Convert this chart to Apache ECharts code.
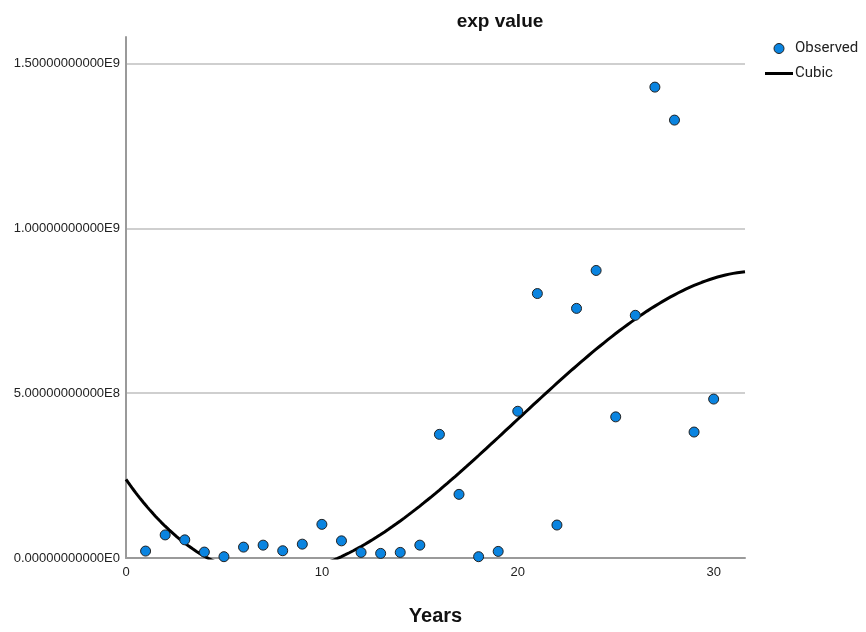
<!DOCTYPE html>
<html>
<head>
<meta charset="utf-8">
<script src="https://cdn.jsdelivr.net/npm/echarts@6/dist/echarts.min.js"></script>
<style>
  html, body { margin: 0; padding: 0; background: #fff; }
  #chart { width: 866px; height: 632px; }
</style>
</head>
<body>
<div id="chart"></div>
<script>
// Years 1..30 and the observed exp value for each year
const years = [1, 2, 3, 4, 5, 6, 7, 8, 9, 10, 11, 12, 13, 14, 15,
               16, 17, 18, 19, 20, 21, 22, 23, 24, 25, 26, 27, 28, 29, 30];
const observed = [2.1e7, 7.0e7, 5.5e7, 1.8e7, 4.0e6, 3.3e7, 3.9e7, 2.2e7, 4.2e7, 1.02e8,
                  5.2e7, 1.7e7, 1.4e7, 1.7e7, 3.9e7, 3.75e8, 1.93e8, 4.0e6, 2.0e7, 4.45e8,
                  8.02e8, 1.0e8, 7.57e8, 8.72e8, 4.28e8, 7.36e8, 1.428e9, 1.328e9, 3.82e8, 4.82e8];
const yTicks = [0, 5e8, 1e9, 1.5e9];
const xTicks = [0, 10, 20, 30];
const xMax = 31.6;
const yMax = 1.58e9;

// Least-squares cubic fit of observed on years (normal equations, Gauss-Jordan)
function cubicFit(xs, ys) {
  const n = 4;
  const A = Array.from({ length: n }, () => new Array(n + 1).fill(0));
  for (let k = 0; k < xs.length; k++) {
    const p = [1, xs[k], xs[k] ** 2, xs[k] ** 3];
    for (let i = 0; i < n; i++) {
      for (let j = 0; j < n; j++) A[i][j] += p[i] * p[j];
      A[i][n] += p[i] * ys[k];
    }
  }
  for (let c = 0; c < n; c++) {
    let piv = c;
    for (let r = c + 1; r < n; r++) if (Math.abs(A[r][c]) > Math.abs(A[piv][c])) piv = r;
    const tmp = A[c]; A[c] = A[piv]; A[piv] = tmp;
    for (let r = 0; r < n; r++) {
      if (r === c) continue;
      const f = A[r][c] / A[c][c];
      for (let j = c; j <= n; j++) A[r][j] -= f * A[c][j];
    }
  }
  return A.map((row, i) => row[n] / row[i]);
}
const coef = cubicFit(years, observed);
const cubic = [];
for (let i = 0; i <= 316; i++) {
  const x = i / 10;
  cubic.push([x, coef[0] + coef[1] * x + coef[2] * x * x + coef[3] * x * x * x]);
}

function sci(v) {
  return v.toExponential(11).toUpperCase().replace('+', '');
}

const chart = echarts.init(document.getElementById('chart'));
chart.setOption({
  animation: false,
  backgroundColor: '#ffffff',
  title: {
    text: 'exp value',
    left: 495, top: 7, textAlign: 'center',
    textStyle: { fontFamily: 'Liberation Sans', fontSize: 19, fontWeight: 'bold', color: '#111' }
  },
  legend: {
    orient: 'vertical',
    left: 765, top: 41,
    padding: 0,
    itemGap: 10,
    itemWidth: 28, itemHeight: 10,
    textStyle: { fontFamily: 'Roboto', fontSize: 15, color: '#222', padding: [0, 0, 0, -3] },
    data: [
      { name: 'Observed', icon: 'circle', itemStyle: { color: '#0a84e0', borderColor: '#222', borderWidth: 1, opacity: 1 } },
      { name: 'Cubic', icon: 'path://M0,0H28V3H0Z', itemStyle: { color: '#000' } }
    ]
  },
  grid: { left: 126, right: 121, top: 37, bottom: 74, containLabel: false },
  xAxis: {
    type: 'value', min: 0, max: xMax, interval: 10,
    name: 'Years', nameLocation: 'middle', nameGap: 48,
    nameTextStyle: { fontFamily: 'Liberation Sans', fontSize: 20, fontWeight: 'bold', color: '#111' },
    axisLine: { show: true, onZero: false, lineStyle: { color: '#9a9a9a', width: 2 } },
    axisTick: { show: false },
    splitLine: { show: false },
    axisLabel: {
      showMaxLabel: false, margin: 8,
      fontFamily: 'Liberation Sans', fontSize: 13, color: '#222',
      formatter: v => (xTicks.includes(v) ? String(v) : '')
    }
  },
  yAxis: {
    type: 'value', min: 0, max: yMax, interval: 5e8,
    axisLine: { show: true, lineStyle: { color: '#9a9a9a', width: 2 } },
    axisTick: { show: false },
    splitLine: { show: true, showMaxLine: false, lineStyle: { color: '#cfcfcf', width: 2 } },
    axisLabel: {
      showMaxLabel: false, margin: 6,
      fontFamily: 'Liberation Sans', fontSize: 13, color: '#222',
      formatter: v => (yTicks.includes(v) ? sci(v) : '')
    }
  },
  series: [
    {
      name: 'Observed', type: 'scatter',
      symbol: 'circle', symbolSize: 10,
      itemStyle: { color: '#0a84e0', borderColor: '#222', borderWidth: 1, opacity: 1 },
      data: years.map((x, i) => [x, observed[i]]),
      z: 3
    },
    {
      name: 'Cubic', type: 'line',
      showSymbol: false, symbol: 'none', smooth: false, clip: true,
      lineStyle: { color: '#000', width: 3 },
      data: cubic,
      z: 2
    }
  ]
});
</script>
</body>
</html>
